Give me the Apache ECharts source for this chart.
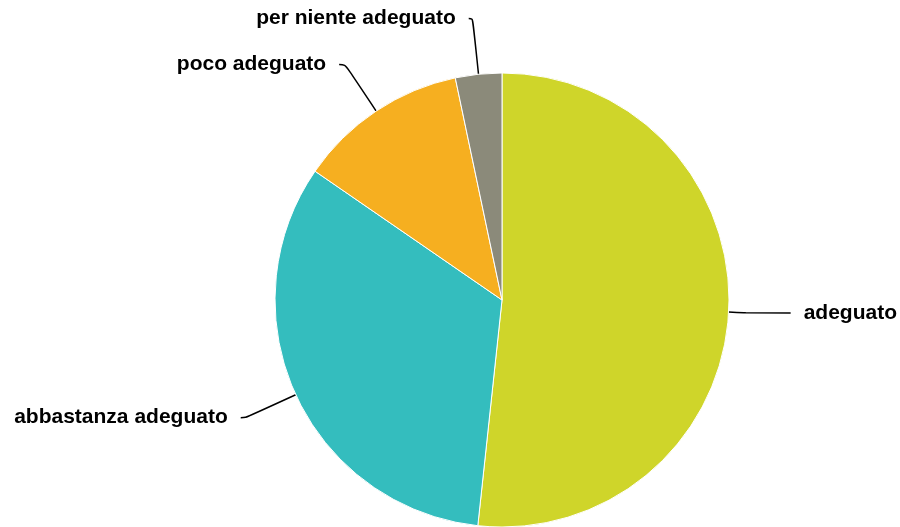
<!DOCTYPE html>
<html><head><meta charset="utf-8">
<script src="https://cdn.jsdelivr.net/npm/echarts@6/dist/echarts.min.js"></script>
<style>html,body{margin:0;padding:0;background:#fff}#c{width:900px;height:527px}</style>
</head><body><div id="c"></div>
<script>
const categories = ["adeguato", "abbastanza adeguato", "poco adeguato", "per niente adeguato"];
const values = [51.7, 32.9, 12.1, 3.3];
const colors = ["#CFD52A", "#34BDBE", "#F6AF20", "#8B8A7A"];
const lineLen = [[15, 47], [55, 5], [56, 6], [56, 4]];

const chart = echarts.init(document.getElementById('c'));
chart.setOption({
  animation: false,
  series: [{
    type: 'pie',
    center: [502, 300],
    radius: 227,
    startAngle: 90,
    clockwise: true,
    data: categories.map((c, i) => ({
      name: c, value: values[i],
      itemStyle: { color: colors[i] },
      labelLine: { length: lineLen[i][0], length2: lineLen[i][1] }
    })),
    itemStyle: { borderColor: '#fff', borderWidth: 1 },
    label: {
      show: true,
      formatter: '{b}',
      color: '#000',
      fontFamily: "'Liberation Sans', Arial, sans-serif",
      fontWeight: 'bold',
      fontSize: 21,
      distanceToLabelLine: 13,
      overflow: 'none'
    },
    labelLine: {
      show: true,
      smooth: 0.4,
      lineStyle: { color: '#000', width: 1.5 }
    }
  }]
});
</script></body></html>
